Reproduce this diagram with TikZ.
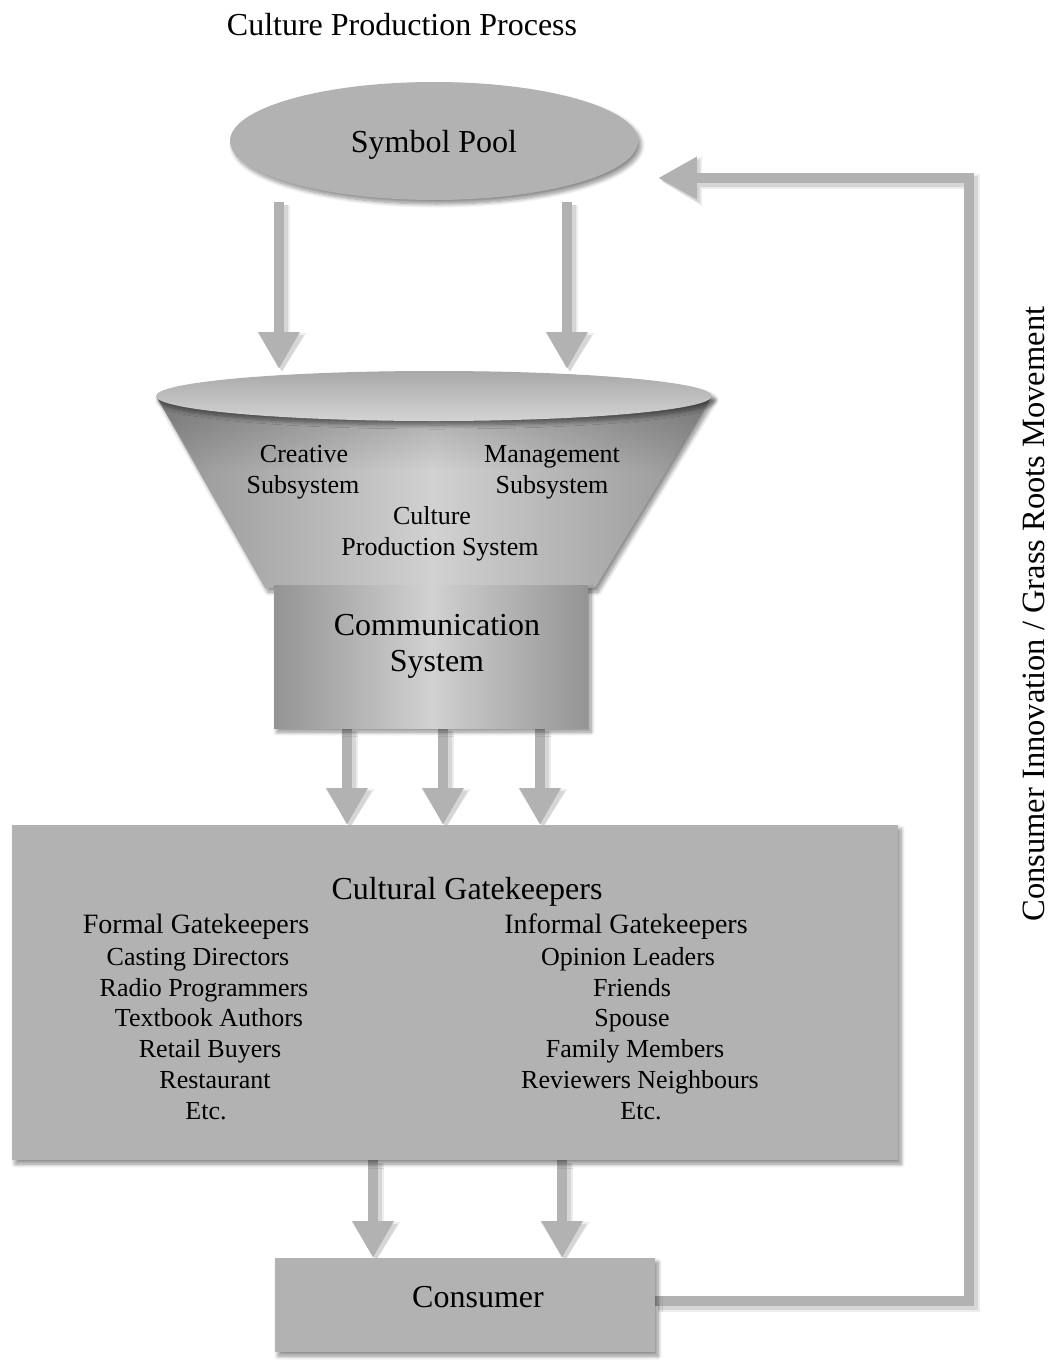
\documentclass[tikz,border=0pt]{standalone}
\usepackage{fontspec}
\setmainfont{Liberation Serif}
\usetikzlibrary{shapes.geometric,arrows.meta,shadows.blur,backgrounds,fadings}
\definecolor{panel}{gray}{0.70}
% grey cone and box shading: darker edges, light middle
\pgfdeclarehorizontalshading{conegrey}{100bp}{%
  color(0bp)=(black!42); color(25bp)=(black!42);
  color(50bp)=(black!18);
  color(75bp)=(black!42); color(100bp)=(black!42)}
\pgfdeclareverticalshading{rimgrey}{100bp}{%
  color(0bp)=(black!17); color(25bp)=(black!17);
  color(75bp)=(black!34); color(100bp)=(black!34)}
% a block connector: soft halo, offset shadow, then the bar itself
\newcommand\flowarrow[2]{%
  \draw[flowhalo] #1 -- #2;
  \draw[flowshade] #1 -- #2;
  \draw[flow] #1 -- #2;}
\begin{document}
\begin{tikzpicture}[x=1pt,y=-1pt,
  every node/.style={inner sep=0pt, outer sep=0pt},
  soft/.style={blur shadow={shadow xshift=3pt, shadow yshift=-4pt,
      shadow blur radius=4pt, shadow blur steps=8, shadow opacity=45}},
  txtL/.style={font=\fontsize{32}{38}\selectfont, anchor=base},
  txtM/.style={font=\fontsize{28}{33}\selectfont, anchor=base},
  txtS/.style={font=\fontsize{26}{31}\selectfont, anchor=base},
  flow/.style={draw=panel, line width=10pt, -{Triangle[length=37pt,width=39pt]}},
  flowshade/.style={draw=black!16, line width=11pt,
      -{Triangle[length=37pt,width=41pt]},
      transform canvas={shift={(3pt,-3pt)}}},
  flowhalo/.style={draw=black!7, line width=15pt,
      -{Triangle[length=39pt,width=46pt]},
      transform canvas={shift={(3pt,-3pt)}}},
  fb/.style={draw=panel, line width=10pt, miter limit=10,
      -{Triangle[length=39pt,width=40pt]}},
  fbshade/.style={draw=black!16, line width=11pt, miter limit=10,
      -{Triangle[length=39pt,width=42pt]},
      transform canvas={shift={(3pt,-3pt)}}},
  fbhalo/.style={draw=black!7, line width=15pt, miter limit=10,
      -{Triangle[length=41pt,width=47pt]},
      transform canvas={shift={(3pt,-3pt)}}},
]
\useasboundingbox (0,0) rectangle (1058,1360);

% title
\node[txtL] (title) at (402,35) {Culture Production Process};

% symbol pool
\node[ellipse, fill=panel, minimum width=408pt, minimum height=118pt, soft]
  (sp) at (434,141) {};
\node[txtL] (sptxt) at (434,152) {Symbol Pool};

% funnel body
\path[shading=conegrey, shading angle=0, soft]
  (156,396) -- (712,396) -- (595,588) -- (265,588) -- cycle;
\fill[black, opacity=0.22, path fading=south]
  (156,396) -- (712,396) -- (668,470) -- (200,470) -- cycle;
% funnel rim
\node[ellipse, shading=rimgrey, shading angle=0,
      minimum width=556pt, minimum height=50pt, soft] (fun) at (434,396) {};

\node[txtS] (cre1) at (304,462) {Creative};
\node[txtS] (cre2) at (303,493) {Subsystem};
\node[txtS] (man1) at (552,462) {Management};
\node[txtS] (man2) at (552,493) {Subsystem};
\node[txtS] (cps1) at (432,524) {Culture};
\node[txtS] (cps2) at (440,555) {Production System};

% communication system
\node[rectangle, shading=conegrey, shading angle=0,
      minimum width=314pt, minimum height=143pt, soft] (comm) at (431,656.5) {};
\node[txtL] (com1) at (437,635) {Communication};
\node[txtL] (com2) at (437,671) {System};

% cultural gatekeepers
\node[rectangle, fill=panel, minimum width=886pt, minimum height=335pt, soft]
  (gk) at (455,992.5) {};
\node[txtL] (gkt) at (467,899) {Cultural Gatekeepers};

\node[txtM] (f0) at (196,933) {Formal Gatekeepers};
\node[txtS] (f1) at (198,965) {Casting Directors};
\node[txtS] (f2) at (204,996) {Radio Programmers};
\node[txtS] (f3) at (209,1026) {Textbook Authors};
\node[txtS] (f4) at (210,1057) {Retail Buyers};
\node[txtS] (f5) at (215,1088) {Restaurant};
\node[txtS] (f6) at (206,1119) {Etc.};

\node[txtM] (i0) at (626,933) {Informal Gatekeepers};
\node[txtS] (i1) at (628,965) {Opinion Leaders};
\node[txtS] (i2) at (632,996) {Friends};
\node[txtS] (i3) at (632,1026) {Spouse};
\node[txtS] (i4) at (635,1057) {Family Members};
\node[txtS] (i5) at (640,1088) {Reviewers Neighbours};
\node[txtS] (i6) at (641,1119) {Etc.};

% consumer
\node[rectangle, fill=panel, minimum width=380pt, minimum height=94pt, soft]
  (cons) at (465,1305) {};
\node[txtL] (constxt) at (478,1307) {Consumer};

% feedback label
\node[rotate=90, font=\fontsize{32.5}{38}\selectfont] (fbl) at (1034,614)
  {Consumer Innovation / Grass Roots Movement};

\coordinate (rail) at (969,178);
\coordinate (fbend) at (658,178);

\begin{pgfonlayer}{background}
  % symbol pool into the funnel
  \flowarrow{([xshift=-155pt,yshift=-2pt]sp.south)}{([xshift=-155pt,yshift=2pt]fun.north)}
  \flowarrow{([xshift=133pt,yshift=-2pt]sp.south)}{([xshift=133pt,yshift=2pt]fun.north)}
  % communication system to gatekeepers
  \flowarrow{([xshift=-84pt]comm.south)}{([xshift=-84pt]comm.south |- gk.north)}
  \flowarrow{([xshift=12pt]comm.south)}{([xshift=12pt]comm.south |- gk.north)}
  \flowarrow{([xshift=109pt]comm.south)}{([xshift=109pt]comm.south |- gk.north)}
  % gatekeepers to consumer
  \flowarrow{([xshift=-82pt]gk.south)}{([xshift=-82pt]gk.south |- cons.north)}
  \flowarrow{([xshift=107pt]gk.south)}{([xshift=107pt]gk.south |- cons.north)}
  % consumer back to the symbol pool
  \draw[fbhalo] ([yshift=4pt]cons.east) -| (rail) -- (fbend);
  \draw[fbshade] ([yshift=4pt]cons.east) -| (rail) -- (fbend);
  \draw[fb] ([yshift=4pt]cons.east) -| (rail) -- (fbend);
\end{pgfonlayer}
\end{tikzpicture}
\end{document}
